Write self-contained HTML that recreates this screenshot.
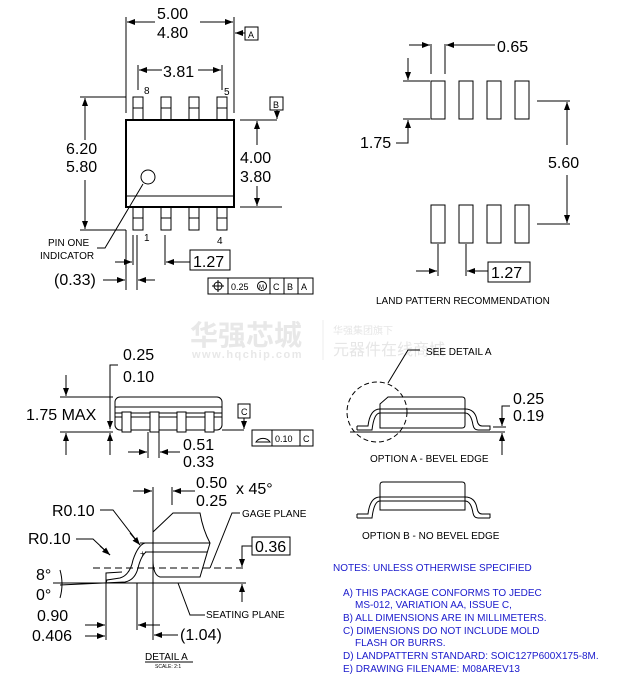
<!DOCTYPE html>
<html><head><meta charset="utf-8"><style>
html,body{margin:0;padding:0;background:#fff;width:633px;height:684px;overflow:hidden}
svg{display:block;font-family:"Liberation Sans","Noto Sans CJK SC",sans-serif}
.l{stroke:#000;stroke-width:1;fill:none}
.t{font-size:16px;fill:#000}
.s{font-size:10px;fill:#000}
.n{font-size:10px;fill:#1a1acc}
</style></head><body>
<svg width="633" height="684" viewBox="0 0 633 684">
<defs>
<marker id="a" markerWidth="8" markerHeight="6" refX="8" refY="3" orient="auto" markerUnits="userSpaceOnUse"><path d="M0,0 L8,3 L0,6z" fill="#000"/></marker>
</defs>
<text x="190" y="345" font-size="28" font-weight="bold" fill="#e8e8e8">华强芯城</text>
<text x="192" y="358" font-size="11" font-weight="bold" fill="#e8e8e8" letter-spacing="1.5">www.hqchip.com</text>
<line x1="323" y1="320" x2="323" y2="360" stroke="#eee"/>
<text x="333" y="334" font-size="10" fill="#e6e6e6">华强集团旗下</text>
<text x="333" y="355" font-size="16" fill="#e6e6e6">元器件在线商城</text>

<g class="l">
<rect x="126" y="120" width="108" height="87" stroke-width="2"/>
<line x1="126" y1="196" x2="234" y2="196"/>
<rect x="133" y="97" width="10" height="23"/><line x1="133" y1="108" x2="143" y2="108"/>
<rect x="161" y="97" width="10" height="23"/><line x1="161" y1="108" x2="171" y2="108"/>
<rect x="189" y="97" width="10" height="23"/><line x1="189" y1="108" x2="199" y2="108"/>
<rect x="217" y="97" width="10" height="23"/><line x1="217" y1="108" x2="227" y2="108"/>
<rect x="133" y="207" width="10" height="23"/><line x1="133" y1="218" x2="143" y2="218"/>
<rect x="161" y="207" width="10" height="23"/><line x1="161" y1="218" x2="171" y2="218"/>
<rect x="189" y="207" width="10" height="23"/><line x1="189" y1="218" x2="199" y2="218"/>
<rect x="217" y="207" width="10" height="23"/><line x1="217" y1="218" x2="227" y2="218"/>
<line x1="126" y1="17" x2="126" y2="113"/><line x1="234" y1="17" x2="234" y2="113"/>
<line x1="155" y1="22" x2="127" y2="22" marker-end="url(#a)"/><line x1="200" y1="22" x2="233" y2="22" marker-end="url(#a)"/>
<line x1="245" y1="33" x2="235" y2="33" marker-end="url(#a)"/><rect x="245" y="27" width="13" height="13"/>
<line x1="138" y1="65" x2="138" y2="90"/><line x1="222" y1="65" x2="222" y2="90"/>
<line x1="162" y1="70" x2="139" y2="70" marker-end="url(#a)"/><line x1="198" y1="70" x2="221" y2="70" marker-end="url(#a)"/>
<rect x="270" y="97" width="13" height="13"/>
<line x1="240" y1="120" x2="277" y2="120"/><line x1="277" y1="110" x2="277" y2="119" marker-end="url(#a)"/>
<line x1="80" y1="97" x2="126" y2="97"/><line x1="80" y1="230" x2="126" y2="230"/>
<line x1="85" y1="140" x2="85" y2="98" marker-end="url(#a)"/><line x1="85" y1="180" x2="85" y2="229" marker-end="url(#a)"/>
<line x1="240" y1="207" x2="282" y2="207"/>
<line x1="257" y1="145" x2="257" y2="121" marker-end="url(#a)"/><line x1="257" y1="186" x2="257" y2="206" marker-end="url(#a)"/>
<circle cx="148" cy="177" r="7"/>
<polyline points="143,184 105,248 97,248"/>
<line x1="126" y1="230" x2="126" y2="290"/><line x1="133" y1="235" x2="133" y2="265"/><line x1="137" y1="235" x2="137" y2="290"/>
<line x1="115" y1="262" x2="132" y2="262" marker-end="url(#a)"/>
<line x1="103" y1="280" x2="125" y2="280" marker-end="url(#a)"/><line x1="155" y1="280" x2="138" y2="280" marker-end="url(#a)"/>
<line x1="165" y1="235" x2="165" y2="265"/>
<line x1="190" y1="262" x2="166" y2="262" marker-end="url(#a)"/>
<rect x="190" y="250" width="40" height="20"/>
<rect x="208" y="278" width="105" height="16"/>
<line x1="228" y1="278" x2="228" y2="294"/><line x1="270" y1="278" x2="270" y2="294"/><line x1="284" y1="278" x2="284" y2="294"/><line x1="298" y1="278" x2="298" y2="294"/>
<circle cx="218" cy="286" r="4"/><line x1="212" y1="286" x2="224" y2="286"/><line x1="218" y1="280" x2="218" y2="292"/>
<circle cx="262" cy="286" r="4.5"/>
</g>
<text class="t" x="157" y="19">5.00</text><text class="t" x="157" y="38">4.80</text>
<text class="t" x="163" y="77">3.81</text>
<text x="144" y="94" font-size="10">8</text><text x="224" y="95" font-size="10">5</text>
<text x="144" y="241" font-size="10">1</text><text x="217" y="244" font-size="10">4</text>
<text x="248" y="38" font-size="9">A</text><text x="273" y="108" font-size="9">B</text>
<text class="t" x="66" y="154">6.20</text><text class="t" x="66" y="172">5.80</text>
<text class="t" x="240" y="163">4.00</text><text class="t" x="240" y="182">3.80</text>
<text class="s" x="48" y="246">PIN ONE</text><text class="s" x="40" y="259">INDICATOR</text>
<text class="t" x="54" y="285">(0.33)</text>
<text class="t" x="193" y="267">1.27</text>
<text x="231" y="290" font-size="9">0.25</text><text x="259" y="289" font-size="6">M</text>
<text x="273" y="290" font-size="9">C</text><text x="287" y="290" font-size="9">B</text><text x="301" y="290" font-size="9">A</text>

<g class="l">
<rect x="431" y="81" width="14" height="38"/><rect x="459" y="81" width="14" height="38"/><rect x="487" y="81" width="14" height="38"/><rect x="515" y="81" width="14" height="38"/>
<rect x="431" y="205" width="14" height="38"/><rect x="459" y="205" width="14" height="38"/><rect x="487" y="205" width="14" height="38"/><rect x="515" y="205" width="14" height="38"/>
<line x1="431" y1="44" x2="431" y2="74"/><line x1="445" y1="44" x2="445" y2="74"/>
<line x1="409" y1="45" x2="430" y2="45" marker-end="url(#a)"/><line x1="495" y1="45" x2="446" y2="45" marker-end="url(#a)"/>
<line x1="403" y1="81" x2="430" y2="81"/><line x1="403" y1="119" x2="430" y2="119"/>
<line x1="408" y1="58" x2="408" y2="80" marker-end="url(#a)"/>
<polyline points="396,143 408,143 408,120"/><line x1="408" y1="135" x2="408" y2="120" marker-end="url(#a)"/>
<line x1="537" y1="101" x2="570" y2="101"/><line x1="537" y1="224" x2="570" y2="224"/>
<line x1="567" y1="145" x2="567" y2="102" marker-end="url(#a)"/><line x1="567" y1="175" x2="567" y2="223" marker-end="url(#a)"/>
<line x1="438" y1="244" x2="438" y2="276"/><line x1="466" y1="244" x2="466" y2="276"/>
<line x1="416" y1="271" x2="437" y2="271" marker-end="url(#a)"/><line x1="488" y1="271" x2="467" y2="271" marker-end="url(#a)"/>
<rect x="488" y="262" width="42" height="20"/>
</g>
<text class="t" x="497" y="52">0.65</text>
<text class="t" x="360" y="148">1.75</text>
<text class="t" x="548" y="168">5.60</text>
<text class="t" x="491" y="278">1.27</text>
<text class="s" x="376" y="304">LAND PATTERN RECOMMENDATION</text>

<g class="l">
<rect x="115" y="397" width="107" height="33" rx="5"/>
<line x1="115" y1="407" x2="222" y2="407"/>
<line x1="115" y1="413" x2="222" y2="413"/><line x1="115" y1="417" x2="222" y2="417"/>
<rect x="122" y="412" width="9" height="20" fill="#fff"/><rect x="150" y="412" width="9" height="20" fill="#fff"/><rect x="177" y="412" width="9" height="20" fill="#fff"/><rect x="205" y="412" width="9" height="20" fill="#fff"/>
<line x1="60" y1="397" x2="113" y2="397"/><line x1="60" y1="432" x2="113" y2="432"/>
<line x1="66" y1="375" x2="66" y2="396" marker-end="url(#a)"/><line x1="66" y1="455" x2="66" y2="433" marker-end="url(#a)"/>
<polyline points="118,365 110,365 110,428"/><line x1="110" y1="410" x2="110" y2="429" marker-end="url(#a)"/>
<line x1="110" y1="455" x2="110" y2="433" marker-end="url(#a)"/>
<rect x="238" y="404" width="12" height="14"/>
<line x1="222" y1="430" x2="244" y2="430"/><line x1="244" y1="418" x2="244" y2="429" marker-end="url(#a)"/>
<rect x="252" y="430" width="61" height="16"/><line x1="272" y1="430" x2="272" y2="446"/><line x1="300" y1="430" x2="300" y2="446"/>
<path d="M256,442 A8,7 0 0 1 270,442 Z"/>
<line x1="148" y1="432" x2="148" y2="458"/><line x1="159" y1="432" x2="159" y2="458"/>
<line x1="128" y1="452" x2="147" y2="452" marker-end="url(#a)"/><line x1="180" y1="452" x2="160" y2="452" marker-end="url(#a)"/>
</g>
<text class="t" x="123" y="360">0.25</text><text class="t" x="123" y="382">0.10</text>
<text class="t" x="26" y="420">1.75 MAX</text>
<text x="241" y="415" font-size="9">C</text>
<text x="275" y="442" font-size="9">0.10</text><text x="303" y="442" font-size="9">C</text>
<text class="t" x="183" y="450">0.51</text><text class="t" x="183" y="467">0.33</text>

<g class="l">
<circle cx="377" cy="412" r="30" stroke-dasharray="5,3"/>
<polyline points="388,383 408,350 420,350"/>
<path d="M380,428 L380,404 L388,397 L462,397 Q465,397 465,400 L465,425 Q465,428 462,428 Z"/>
<path d="M357,430 L372,430 Q374,413 380,413 L465,413 Q471,413 473,425 Q474,430 478,430 L490,430"/>
<path d="M357,426 L368,426 Q370,409 380,409 L465,409 Q475,409 477,420 Q478,426 482,426 L490,426 L490,430"/>
<line x1="357" y1="426" x2="357" y2="430"/>
<line x1="350" y1="432" x2="505" y2="432"/>
<line x1="493" y1="427" x2="506" y2="427"/>
<polyline points="510,406 502,406 502,426"/><line x1="502" y1="418" x2="502" y2="426" marker-end="url(#a)"/>
<line x1="502" y1="455" x2="502" y2="433" marker-end="url(#a)"/>
<path d="M380,510 L380,485 Q380,482 383,482 L462,482 Q465,482 465,485 L465,510 Z"/>
<path d="M357,518 L372,518 Q374,501 380,501 L465,501 Q471,501 473,513 Q474,518 478,518 L490,518"/>
<path d="M357,514 L368,514 Q370,497 380,497 L465,497 Q475,497 477,508 Q478,514 482,514 L490,514 L490,518"/>
<line x1="357" y1="514" x2="357" y2="518"/>
</g>
<text class="s" x="426" y="355">SEE DETAIL A</text>
<text class="t" x="513" y="404">0.25</text><text class="t" x="513" y="421">0.19</text>
<text class="s" x="370" y="462">OPTION A - BEVEL EDGE</text>
<text class="s" x="362" y="539">OPTION B - NO BEVEL EDGE</text>

<text class="n" x="333" y="571">NOTES: UNLESS OTHERWISE SPECIFIED</text>
<text class="n" x="343" y="596">A)  THIS PACKAGE CONFORMS TO JEDEC</text>
<text class="n" x="355" y="608">MS-012, VARIATION AA, ISSUE C,</text>
<text class="n" x="343" y="621">B)  ALL DIMENSIONS ARE IN MILLIMETERS.</text>
<text class="n" x="343" y="634">C)  DIMENSIONS DO NOT INCLUDE MOLD</text>
<text class="n" x="355" y="646">FLASH OR BURRS.</text>
<text class="n" x="343" y="659">D)  LANDPATTERN STANDARD: SOIC127P600X175-8M.</text>
<text class="n" x="343" y="672">E)  DRAWING FILENAME: M08AREV13</text>

<g class="l">
<path d="M153,532 L173,513 L200,513 Q203,530 210,543 L200,577 L160,577 Q153,575 153,560"/>
<line x1="140" y1="543" x2="210" y2="543"/><line x1="145" y1="552" x2="207" y2="552"/>
<path d="M153,543 L145,543 Q138,545 133,560 Q130,575 120,578 L107,580 L106,583"/>
<path d="M153,552 L146,552 Q141,556 138,568 Q135,580 125,582 L60,585"/>
<path d="M106,583 L106,573 L122,572"/>
<line x1="93" y1="568" x2="246" y2="568" stroke-dasharray="7,4"/>
<line x1="53" y1="583" x2="246" y2="583"/>
<line x1="153" y1="487" x2="153" y2="640"/><line x1="137" y1="583" x2="137" y2="630"/>
<line x1="172" y1="487" x2="172" y2="505"/>
<line x1="133" y1="491" x2="152" y2="491" marker-end="url(#a)"/><line x1="195" y1="491" x2="173" y2="491" marker-end="url(#a)"/>
<polyline points="240,513 232,513 210,568"/>
<rect x="252" y="537" width="38" height="18"/>
<polyline points="252,546 242,546 242,567"/><line x1="242" y1="558" x2="242" y2="567" marker-end="url(#a)"/>
<line x1="242" y1="602" x2="242" y2="584" marker-end="url(#a)"/>
<polyline points="205,615 190,615 178,583"/>
<polyline points="100,510 113,510 140,545"/><line x1="130" y1="533" x2="140" y2="545" marker-end="url(#a)"/>
<polyline points="76,539 93,539 110,555"/><line x1="100" y1="546" x2="110" y2="555" marker-end="url(#a)"/>
<path d="M60,570 Q64,584 60,598"/>
<line x1="106" y1="583" x2="106" y2="640"/>
<line x1="85" y1="625" x2="105" y2="625" marker-end="url(#a)"/><line x1="160" y1="625" x2="138" y2="625" marker-end="url(#a)"/>
<line x1="85" y1="636" x2="105" y2="636" marker-end="url(#a)"/>
<line x1="178" y1="635" x2="154" y2="635" marker-end="url(#a)"/>
<line x1="145" y1="662" x2="193" y2="662"/>
</g>
<text x="140" y="556" font-size="8">+</text>
<text class="t" x="196" y="488">0.50</text><text class="t" x="196" y="506">0.25</text>
<text class="t" x="236" y="494" font-size="14">x 45°</text>
<text class="s" x="242" y="517">GAGE PLANE</text>
<text class="t" x="255" y="552">0.36</text>
<text class="s" x="206" y="618">SEATING PLANE</text>
<text class="t" x="52" y="516">R0.10</text>
<text class="t" x="28" y="544">R0.10</text>
<text class="t" x="36" y="580">8°</text><text class="t" x="36" y="600">0°</text>
<text class="t" x="37" y="621">0.90</text><text class="t" x="32" y="641">0.406</text>
<text class="t" x="180" y="640">(1.04)</text>
<text class="s" x="145" y="660">DETAIL A</text>
<text x="155" y="668" font-size="5">SCALE: 2:1</text>
</svg>
</body></html>
